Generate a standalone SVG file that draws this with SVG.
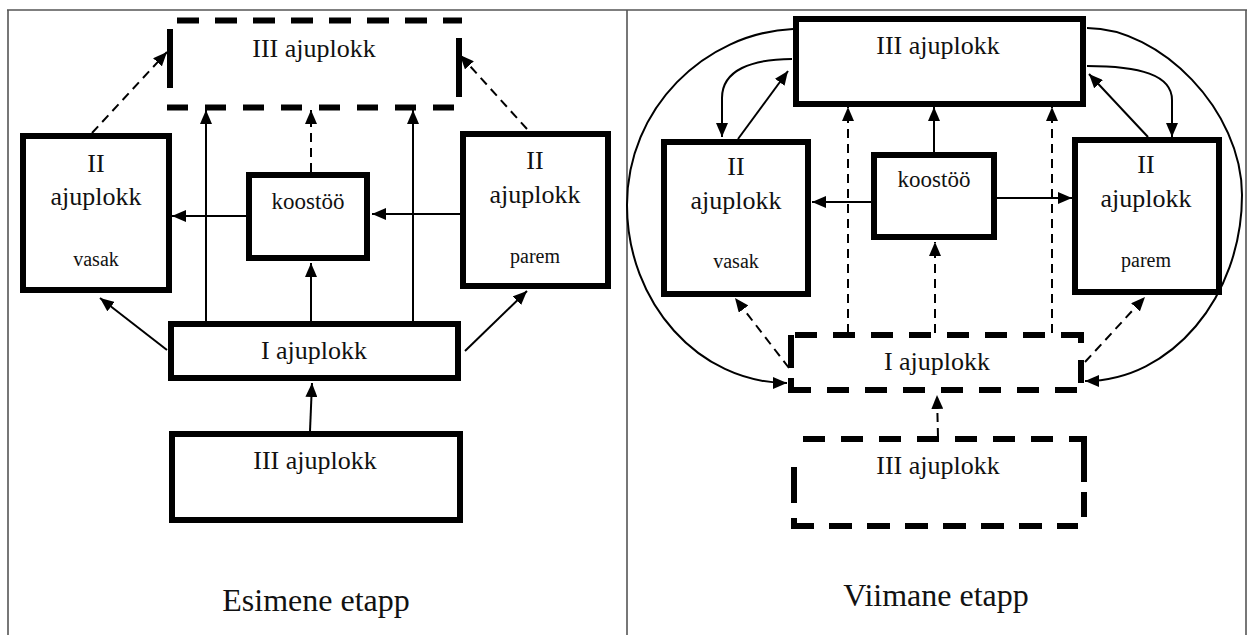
<svg xmlns="http://www.w3.org/2000/svg" width="1252" height="635" viewBox="0 0 1252 635">
  <style>
    .frame { stroke: #555; stroke-width: 1.6; fill: none; }
    .box { fill: #fff; stroke: #000; stroke-width: 6; }
    .dbox line { stroke: #000; stroke-width: 6; }
    .conn { stroke: #000; stroke-width: 2; fill: none; }
    .dash { stroke-dasharray: 9 6; }
    text { font-family: "Liberation Serif", "Times New Roman", serif; fill: #111; text-anchor: middle; }
    .t26 { font-size: 26px; }
    .t23 { font-size: 23px; }
    .t20 { font-size: 20px; }
    .t32 { font-size: 32px; }
  </style>
  <defs>
    <marker id="ah" viewBox="0 0 14 12" refX="14" refY="6" markerWidth="14" markerHeight="12" markerUnits="userSpaceOnUse" orient="auto">
      <path d="M0,0 L14,6 L0,12 z" fill="#000"/>
    </marker>
  </defs>

  <rect width="1252" height="635" fill="#fff"/>

  <!-- table frame -->
  <g id="frame">
    <line class="frame" x1="7" y1="10" x2="1247" y2="10"/>
    <line class="frame" x1="8" y1="10" x2="8" y2="635"/>
    <line class="frame" x1="627" y1="10" x2="627" y2="635"/>
    <line class="frame" x1="1246" y1="10" x2="1246" y2="635"/>
  </g>

  <!-- connectors -->
  <g id="connectors">
    <!-- left panel -->
    <path class="conn dash" d="M92,133 L167,52" marker-end="url(#ah)"/>
    <path class="conn dash" d="M527,129 L460,55" marker-end="url(#ah)"/>
    <path class="conn" d="M206,321 L206,110" marker-end="url(#ah)"/>
    <path class="conn" d="M413,321 L413,110" marker-end="url(#ah)"/>
    <path class="conn dash" d="M311,172 L311,110" marker-end="url(#ah)"/>
    <path class="conn" d="M246,216 L172,216" marker-end="url(#ah)"/>
    <path class="conn" d="M460,214 L372,214" marker-end="url(#ah)"/>
    <path class="conn" d="M311,321 L311,263" marker-end="url(#ah)"/>
    <path class="conn" d="M167,350 L100,298" marker-end="url(#ah)"/>
    <path class="conn" d="M465,351 L527,291" marker-end="url(#ah)"/>
    <path class="conn" d="M310,431 L312,383" marker-end="url(#ah)"/>

    <!-- right panel -->
    <path class="conn" d="M793,29 C705,33 627,108 627,205 C627,303 699,383 787,383" marker-end="url(#ah)"/>
    <path class="conn" d="M1087,28 C1160,28 1242,110 1242,195 C1242,297 1171,381 1085,381" marker-end="url(#ah)"/>
    <path class="conn" d="M792,59 C752,59 722,70 722,98 L722,137" marker-end="url(#ah)"/>
    <path class="conn" d="M738,139 L788,71" marker-end="url(#ah)"/>
    <path class="conn" d="M1087,66 C1140,66 1172,75 1172,100 L1172,137" marker-end="url(#ah)"/>
    <path class="conn" d="M1148,137 L1089,74" marker-end="url(#ah)"/>
    <path class="conn" d="M934,152 L934,107" marker-end="url(#ah)"/>
    <path class="conn dash" d="M848,333 L848,107" marker-end="url(#ah)"/>
    <path class="conn dash" d="M1052,333 L1052,107" marker-end="url(#ah)"/>
    <path class="conn dash" d="M935,333 L935,242" marker-end="url(#ah)"/>
    <path class="conn" d="M871,202 L812,202" marker-end="url(#ah)"/>
    <path class="conn" d="M997,198 L1072,198" marker-end="url(#ah)"/>
    <path class="conn dash" d="M789,368 L735,298" marker-end="url(#ah)"/>
    <path class="conn dash" d="M1085,362 L1145,297" marker-end="url(#ah)"/>
    <path class="conn dash" d="M938,437 L937,395" marker-end="url(#ah)"/>
  </g>

  <!-- left panel: first stage -->
  <g id="l-block3-top" class="dbox">
    <line x1="177" y1="20.5" x2="462" y2="20.5" stroke-dasharray="22 16"/>
    <line x1="170" y1="29" x2="170" y2="88"/>
    <line x1="459" y1="38" x2="459" y2="97"/>
    <line x1="167" y1="107.5" x2="455" y2="107.5" stroke-dasharray="21 17"/>
    <text class="t26" x="314" y="57">III ajuplokk</text>
  </g>
  <g id="l-block2-left">
    <rect class="box" x="23" y="136" width="146" height="154"/>
    <text class="t26" x="96" y="172">II</text>
    <text class="t26" x="96" y="205">ajuplokk</text>
    <text class="t20" x="96" y="266">vasak</text>
  </g>
  <g id="l-koostoo">
    <rect class="box" x="249" y="175" width="118" height="83"/>
    <text class="t23" x="308" y="209">koostöö</text>
  </g>
  <g id="l-block2-right">
    <rect class="box" x="463" y="134" width="145" height="152"/>
    <text class="t26" x="535" y="169">II</text>
    <text class="t26" x="535" y="203">ajuplokk</text>
    <text class="t20" x="535" y="263">parem</text>
  </g>
  <g id="l-block1">
    <rect class="box" x="171" y="324" width="287" height="54"/>
    <text class="t26" x="314" y="359">I ajuplokk</text>
  </g>
  <g id="l-block3-bottom">
    <rect class="box" x="172" y="434" width="288" height="86"/>
    <text class="t26" x="315" y="469">III ajuplokk</text>
  </g>
  <text class="t32" x="316" y="611">Esimene etapp</text>

  <!-- right panel: last stage -->
  <g id="r-block3-top">
    <rect class="box" x="796" y="19" width="287" height="85"/>
    <text class="t26" x="938" y="54">III ajuplokk</text>
  </g>
  <g id="r-block2-left">
    <rect class="box" x="664" y="142" width="144" height="152"/>
    <text class="t26" x="736" y="175">II</text>
    <text class="t26" x="736" y="209">ajuplokk</text>
    <text class="t20" x="736" y="268">vasak</text>
  </g>
  <g id="r-koostoo">
    <rect class="box" x="874" y="155" width="120" height="82"/>
    <text class="t23" x="934" y="187">koostöö</text>
  </g>
  <g id="r-block2-right">
    <rect class="box" x="1075" y="140" width="144" height="152"/>
    <text class="t26" x="1146" y="173">II</text>
    <text class="t26" x="1146" y="207">ajuplokk</text>
    <text class="t20" x="1146" y="267">parem</text>
  </g>
  <g id="r-block1" class="dbox">
    <line x1="795" y1="335" x2="1084" y2="335" stroke-dasharray="22 16"/>
    <line x1="791" y1="335" x2="791" y2="368"/>
    <line x1="791" y1="378" x2="791" y2="393"/>
    <line x1="789" y1="390" x2="1078" y2="390" stroke-dasharray="22 16"/>
    <line x1="1081" y1="332" x2="1081" y2="343"/>
    <line x1="1081" y1="360" x2="1081" y2="383"/>
    <text class="t26" x="937" y="370">I ajuplokk</text>
  </g>
  <g id="r-block3-bottom" class="dbox">
    <line x1="803" y1="439" x2="1087" y2="439" stroke-dasharray="22 16"/>
    <line x1="794" y1="467" x2="794" y2="503"/>
    <line x1="794" y1="518" x2="794" y2="529"/>
    <line x1="1084" y1="436" x2="1084" y2="482"/>
    <line x1="1084" y1="492" x2="1084" y2="517"/>
    <line x1="791" y1="526" x2="1078" y2="526" stroke-dasharray="23 15"/>
    <text class="t26" x="938" y="474">III ajuplokk</text>
  </g>
  <text class="t32" x="936" y="606">Viimane etapp</text>
</svg>
